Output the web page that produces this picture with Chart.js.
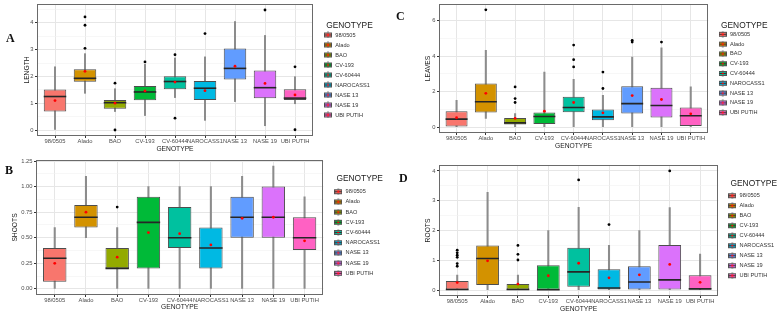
<!DOCTYPE html>
<html><head><meta charset="utf-8">
<script src="https://cdn.jsdelivr.net/npm/chart.js@4.4.1/dist/chart.umd.min.js"></script>
<style>
html,body{margin:0;padding:0;background:#fff}
body{width:779px;height:315px;overflow:hidden;position:relative}
.panel{position:absolute}
.panel canvas{display:block}
.lab{position:absolute;font-family:'Liberation Serif','Times New Roman',serif;font-weight:bold;font-size:12px;line-height:12px;color:#111}
</style></head><body>
<div class="panel" style="left:0;top:0"><canvas id="cA" width="390" height="157"></canvas></div>
<div class="panel" style="left:0;top:157px"><canvas id="cB" width="390" height="158"></canvas></div>
<div class="panel" style="left:390px;top:0"><canvas id="cC" width="389" height="157"></canvas></div>
<div class="panel" style="left:390px;top:157px"><canvas id="cD" width="389" height="158"></canvas></div>
<div class="lab" style="left:6px;top:32px">A</div>
<div class="lab" style="left:5px;top:164px">B</div>
<div class="lab" style="left:396px;top:10px">C</div>
<div class="lab" style="left:399px;top:172px">D</div>
<script>
const genotypes = ["98/0505","Alado","BAO","CV-193","CV-60444","NAROCASS1","NASE 13","NASE 19","UBI PUTIH"];
const boxColors = ["#F8766D","#D39200","#93AA00","#00BA38","#00C19F","#00B9E3","#619CFF","#DB72FB","#FF61C3"];

// A: LENGTH
const lengthLow    = [0.02,1.37,0.69,0.54,1.21,0.36,1.06,0.16,0.98];
const lengthQ1     = [0.69,1.80,0.79,1.11,1.52,1.12,1.89,1.19,1.12];
const lengthMedian = [1.25,1.93,1.02,1.42,1.81,1.56,2.30,1.58,1.19];
const lengthQ3     = [1.51,2.27,1.12,1.64,2.01,1.83,3.04,2.22,1.52];
const lengthHigh   = [2.36,2.85,1.54,2.45,2.69,2.73,4.05,3.53,1.99];
const lengthMean   = [1.10,2.19,1.00,1.46,1.79,1.47,2.38,1.74,1.31];
const lengthOutliers = [["Alado",4.22],["Alado",3.91],["Alado",3.05],["BAO",1.75],["BAO",0.0],["CV-193",2.54],["CV-60444",2.81],["CV-60444",0.44],["NAROCASS1",3.60],["NASE 19",4.48],["UBI PUTIH",2.36],["UBI PUTIH",0.01]];
const lengthTicks = [0,1,2,3,4];
const lengthMinor = [0.5,1.5,2.5,3.5,4.5];

// B: SHOOTS
const shootsLow    = [0,0.50,0,0,0,0,0,0,0];
const shootsQ1     = [0.07,0.60,0.20,0.20,0.40,0.20,0.50,0.50,0.38];
const shootsMedian = [0.30,0.70,0.20,0.65,0.50,0.40,0.70,0.70,0.50];
const shootsQ3     = [0.40,0.82,0.40,0.90,0.80,0.60,0.90,1.00,0.70];
const shootsHigh   = [0.60,1.10,0.60,1.00,1.00,1.00,1.10,1.20,0.90];
const shootsMean   = [0.25,0.75,0.31,0.55,0.54,0.43,0.69,0.70,0.47];
const shootsOutliers = [["BAO",0.80]];
const shootsTicks = [0,0.25,0.5,0.75,1.0,1.25];
const shootsMinor = [0.125,0.375,0.625,0.875,1.125];

// C: LEAVES
const leavesLow    = [0,0.49,0,0,0,0,0,0,0];
const leavesQ1     = [0.04,0.83,0.15,0.17,0.84,0.39,0.77,0.54,0.06];
const leavesMedian = [0.45,1.43,0.24,0.60,1.11,0.58,1.33,1.22,0.64];
const leavesQ3     = [0.90,2.46,0.51,0.83,1.71,0.99,2.31,2.23,1.11];
const leavesHigh   = [1.52,4.33,0.77,3.11,2.70,1.80,3.96,4.48,2.27];
const leavesMean   = [0.53,1.91,0.49,0.90,1.39,0.81,1.78,1.56,0.75];
const leavesOutliers = [["Alado",6.62],["BAO",2.27],["BAO",1.61],["BAO",1.39],["CV-60444",4.63],["CV-60444",3.81],["CV-60444",3.40],["NAROCASS1",3.11],["NAROCASS1",2.18],["NASE 13",4.90],["NASE 13",4.80],["NASE 19",4.80]];
const leavesTicks = [0,2,4,6];
const leavesMinor = [1,3,5];

// D: ROOTS
const rootsLow    = [0,0,0,0,0,0,0,0,0];
const rootsQ1     = [0,0.17,0,0,0.11,0,0,0.02,0];
const rootsMedian = [0.02,1.06,0.02,0.01,0.61,0.07,0.27,0.34,0.04];
const rootsQ3     = [0.30,1.50,0.20,0.83,1.42,0.70,0.80,1.51,0.50];
const rootsHigh   = [0.50,3.28,0.50,2.00,2.78,1.50,2.00,2.77,1.21];
const rootsMean   = [0.25,0.98,0.20,0.48,0.90,0.41,0.51,0.86,0.26];
const rootsOutliers = [["98/0505",1.34],["98/0505",1.25],["98/0505",1.17],["98/0505",1.10],["98/0505",0.89],["98/0505",0.80],["BAO",1.50],["BAO",1.20],["BAO",1.01],["CV-60444",3.70],["NAROCASS1",2.20],["NASE 19",4.00]];
const rootsTicks = [0,1,2,3,4];
const rootsMinor = [0.5,1.5,2.5,3.5];

Chart.defaults.font.family = "'Liberation Sans', Arial, sans-serif";

function keyImg(color){
  const c = document.createElement('canvas'); c.width = 8; c.height = 7;
  const g = c.getContext('2d');
  g.strokeStyle = '#8c8c8c'; g.lineWidth = 1;
  g.beginPath(); g.moveTo(4,0); g.lineTo(4,7); g.stroke();
  g.fillStyle = color; g.fillRect(0.5,1.5,7,4);
  g.strokeStyle = '#555'; g.strokeRect(0.5,1.5,7,4);
  g.strokeStyle = '#333'; g.beginPath(); g.moveTo(0.5,3.5); g.lineTo(7.5,3.5); g.stroke();
  g.fillStyle = '#ff0000'; g.beginPath(); g.arc(4,3.5,1.1,0,Math.PI*2); g.fill();
  return c;
}
const keyImages = boxColors.map(keyImg);

const borderPlugin = {
  id: 'panelBorder',
  afterDraw(chart){
    const a = chart.chartArea, c = chart.ctx;
    c.save(); c.strokeStyle = '#6a6a6a'; c.lineWidth = 1;
    c.strokeRect(Math.round(a.left)+0.5, Math.round(a.top)+0.5, Math.round(a.right)-Math.round(a.left)-1, Math.round(a.bottom)-Math.round(a.top)-1);
    c.restore();
  }
};

function makePanel(p){
  const xs = genotypes.map((g,i)=>i+1);
  const majors = p.ticks, minors = p.minor;
  const isMajor = v => majors.some(m => Math.abs(m - v) < 1e-9);
  const allTicks = majors.concat(minors).sort((a,b)=>a-b);
  const halfBox = ctx => { const s = ctx.chart.scales.x; return s.getPixelForValue(1.375) - s.getPixelForValue(1); };
  const opts = {
    responsive: false, animation: false, devicePixelRatio: 1,
    layout: { autoPadding: false, padding: { left: 0, top: p.padTop, right: 0, bottom: p.padBottom } },
    plugins: {
      tooltip: { enabled: false },
      legend: {
        position: 'right', align: 'start', onClick: null,
        title: { display: true, text: 'GENOTYPE', color: '#1a1a1a', position: 'center', font: { size: 8.4 }, padding: { top: p.legTitleTop, bottom: p.legTitleBottom } },
        labels: {
          usePointStyle: true, pointStyleWidth: 9, padding: p.legPad, color: '#333', font: { size: 5.6 },
          generateLabels: () => genotypes.map((g,i)=>({ text: g, fillStyle: boxColors[i], strokeStyle: '#555', lineWidth: 0, pointStyle: keyImages[i], hidden: false, datasetIndex: 0, fontColor: '#333' }))
        }
      }
    },
    scales: {
      x: {
        type: 'linear', min: 0.4, max: 9.6, offset: false, bounds: 'data',
        afterBuildTicks: s => { s.ticks = xs.map(v => ({ value: v })); },
        afterFit: s => { s.height = p.xH; s.paddingLeft = 0; s.paddingRight = 0; },
        ticks: { autoSkip: false, maxRotation: 0, minRotation: 0, padding: 0, color: '#4d4d4d', font: { size: 5.8 }, callback: v => genotypes[Math.round(v) - 1] },
        grid: { offset: false, color: '#e6e6e6', lineWidth: 1, tickColor: '#333', tickLength: 2 },
        border: { display: false },
        title: { display: true, text: 'GENOTYPE', color: '#1a1a1a', font: { size: 6.7 }, padding: { top: 0, bottom: p.xTitlePad } }
      },
      y: {
        type: 'linear', min: p.min, max: p.max, bounds: 'data',
        afterBuildTicks: s => { s.ticks = allTicks.map(v => ({ value: v })); },
        afterFit: s => { s.width = p.yW; s.paddingTop = 0; s.paddingBottom = 0; },
        ticks: { padding: 1.5, color: '#4d4d4d', font: { size: 5.8 }, callback: v => isMajor(v) ? p.fmt(v) : '' },
        grid: {
          color: ctx => isMajor(ctx.tick.value) ? '#e6e6e6' : '#f1f1f1',
          lineWidth: ctx => isMajor(ctx.tick.value) ? 1 : 0.6,
          tickColor: ctx => isMajor(ctx.tick.value) ? '#333' : 'rgba(0,0,0,0)',
          tickLength: 2
        },
        border: { display: false },
        title: { display: true, text: p.yTitle, color: '#1a1a1a', font: { size: 6.7 }, padding: { top: p.yTitlePad, bottom: 0 } }
      },
      gap: {
        type: 'linear', position: 'right', display: true,
        grid: { display: false, drawTicks: false }, ticks: { display: false }, border: { display: false },
        afterFit: s => { s.width = p.gapW; s.paddingTop = 0; s.paddingBottom = 0; }
      }
    }
  };
  const data = {
    datasets: [
      { type: 'bar', label: 'whisker', data: xs.map((x,i)=>({ x, y: [p.low[i], p.high[i]] })), backgroundColor: '#8c8c8c', borderWidth: 0, barThickness: 1.4, grouped: false, order: 5 },
      { type: 'bar', label: 'box', data: xs.map((x,i)=>({ x, y: [p.q1[i], p.q3[i]] })), backgroundColor: boxColors, borderColor: '#4d4d4d', borderWidth: 1, borderSkipped: false, barPercentage: 0.75, categoryPercentage: 1, grouped: false, order: 4 },
      { type: 'scatter', label: 'median', data: xs.map((x,i)=>({ x, y: p.median[i] })), pointStyle: 'line', pointRadius: halfBox, pointBorderColor: '#262626', pointBorderWidth: 1.6, order: 3 },
      { type: 'scatter', label: 'outlier', data: p.outliers.map(o=>({ x: genotypes.indexOf(o[0]) + 1, y: o[1] })), pointStyle: 'circle', pointRadius: 1.4, pointBackgroundColor: '#000', pointBorderWidth: 0, order: 2 },
      { type: 'scatter', label: 'mean', data: xs.map((x,i)=>({ x, y: p.mean[i] })), pointStyle: 'circle', pointRadius: 1.4, pointBackgroundColor: '#ff0000', pointBorderWidth: 0, order: 1 }
    ]
  };
  const chart = new Chart(document.getElementById(p.id), { type: 'bar', data, options: opts, plugins: [borderPlugin] });
  const dx = chart.legend.left - p.legendLeft;
  opts.layout.padding.right += dx;
  chart.update();
  return chart;
}

const fmtInt = v => String(Math.round(v));
const fmt2 = v => v.toFixed(2);

makePanel({ id: 'cA', yTitle: 'LENGTH', low: lengthLow, q1: lengthQ1, median: lengthMedian, q3: lengthQ3, high: lengthHigh, mean: lengthMean, outliers: lengthOutliers,
  ticks: lengthTicks, minor: lengthMinor, min: -0.224, max: 4.704, fmt: fmtInt,
  padTop: 4, padBottom: 4, xH: 17, xTitlePad: 0, yW: 37, yTitlePad: 23, gapW: 6.1, legendLeft: 319.1,
  legPad: 4.4, legTitleTop: 17.2, legTitleBottom: -3.5 });

makePanel({ id: 'cB', yTitle: 'SHOOTS', low: shootsLow, q1: shootsQ1, median: shootsMedian, q3: shootsQ3, high: shootsHigh, mean: shootsMean, outliers: shootsOutliers,
  ticks: shootsTicks, minor: shootsMinor, min: -0.06, max: 1.26, fmt: fmt2,
  padTop: 3, padBottom: 3.5, xH: 16.5, xTitlePad: 0.2, yW: 36, yTitlePad: 11, gapW: 5.9, legendLeft: 329.2,
  legPad: 4.6, legTitleTop: 14.96, legTitleBottom: -0.74 });

makePanel({ id: 'cC', yTitle: 'LEAVES', low: leavesLow, q1: leavesQ1, median: leavesMedian, q3: leavesQ3, high: leavesHigh, mean: leavesMean, outliers: leavesOutliers,
  ticks: leavesTicks, minor: leavesMinor, min: -0.331, max: 6.951, fmt: fmtInt,
  padTop: 4, padBottom: 7, xH: 17, xTitlePad: 0, yW: 49, yTitlePad: 34, gapW: 5.7, legendLeft: 324,
  legPad: 4.2, legTitleTop: 17.2, legTitleBottom: -3.98 });

makePanel({ id: 'cD', yTitle: 'ROOTS', low: rootsLow, q1: rootsQ1, median: rootsMedian, q3: rootsQ3, high: rootsHigh, mean: rootsMean, outliers: rootsOutliers,
  ticks: rootsTicks, minor: rootsMinor, min: -0.2, max: 4.2, fmt: fmtInt,
  padTop: 8, padBottom: 2, xH: 17, xTitlePad: 0, yW: 49, yTitlePad: 34, gapW: 5.1, legendLeft: 333.4,
  legPad: 4.4, legTitleTop: 14.26, legTitleBottom: -0.84 });
</script>
</body></html>
